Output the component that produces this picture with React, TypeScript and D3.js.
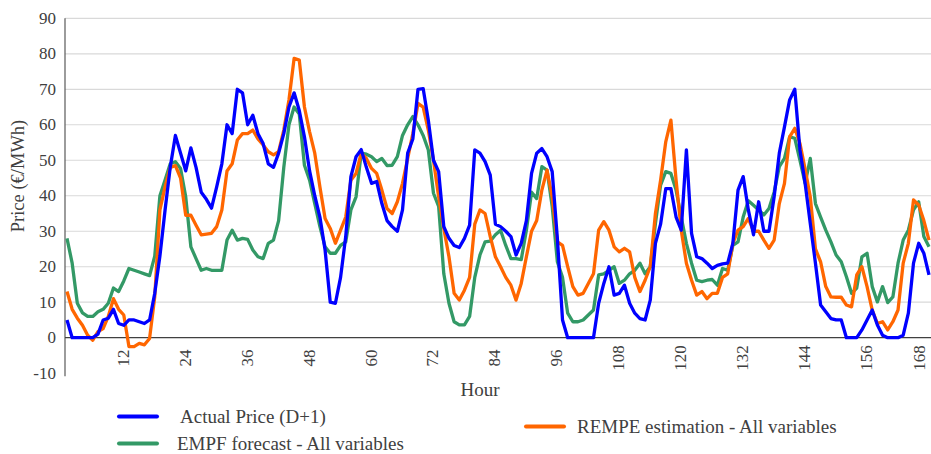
import React from "react";
import * as d3 from "d3";

// hourly prices, hours 1..168
const actualPrice = [
  5, 0, 0, 0, 0, 0, 1, 5, 5.5, 8, 4, 3.5, 5, 5, 4.5, 4, 5, 12.5, 23, 36, 48, 57, 52, 47,
  53.5, 48, 41, 39, 36.5, 42.5, 49, 60, 57.5, 70, 69, 60, 62.7, 57.5, 54.7, 49, 48, 52, 57.5, 65, 69, 64, 56.6, 47,
  40, 34, 24.7, 10, 9.7, 17, 28.5, 45.4, 51, 53, 48, 43.5, 44, 37.8, 33, 31.3, 30, 36, 52, 56, 70, 70.2, 61.3, 50,
  46.8, 31.3, 28, 26, 25.4, 28, 31.7, 52.9, 52, 49.6, 45.8, 32, 31.3, 30, 28.5, 23.3, 26.6, 33, 46.3, 52, 53.3, 51, 46.8, 28,
  5, 0, 0, 0, 0, 0, 0, 9.7, 15.3, 20, 12, 12.5, 14.8, 9.7, 6.9, 5.4, 5, 10.6, 26.6, 32, 42, 42, 34, 30.3,
  52.9, 29.4, 22.8, 22.3, 21, 19.5, 20.4, 20.8, 21, 26.6, 41.6, 45.4, 36, 29, 38.3, 30, 30, 39.7, 52, 59.4, 67, 70, 52.9, 43.5,
  32.2, 21, 9.2, 7.3, 5.4, 5, 5, 0, 0, 0, 2.2, 5, 7.8, 3.6, 0.7, 0, 0, 0, 0.7, 6.9, 21, 26.6, 23.8, 17.7,
];

const rempeEstimation = [
  13, 8, 5.5, 3.5, 0.7, -0.7, 1.7, 2.6, 6, 11, 8, 6.4, -2.5, -2.5, -1.6, -2, -0.2, 11.5, 36, 42.5, 48, 48.5, 45, 34.5,
  34.5, 31.7, 29, 29.2, 29.4, 31.3, 36, 47, 49, 55.7, 57.5, 57.5, 58.5, 56, 54.3, 52.4, 51.5, 52.4, 58.5, 67, 78.7, 78.2, 65, 58,
  52, 42.5, 33.6, 30.8, 26.6, 30.3, 34, 44.4, 46.3, 52, 50.5, 47.7, 46.3, 41.6, 36.4, 35, 38.3, 43.5, 50.5, 57.5, 66, 65, 58.5, 50,
  39.7, 30.8, 22.8, 12.5, 10.6, 13.4, 17, 32, 36, 35, 28.5, 22.8, 20, 17, 14.8, 10.6, 15.3, 22.8, 30, 33, 41.6, 47.2, 39.7, 27,
  26, 20, 14.4, 12, 12.5, 15.3, 18, 30.3, 32.7, 30.3, 25.6, 24.2, 25.2, 24.2, 17, 13, 16.2, 20, 35, 44.4, 55.2, 61.3, 44.4, 30.3,
  21, 16.2, 12, 13, 11, 12.5, 12.5, 17, 18, 26.6, 30.3, 31.3, 33.6, 30, 30, 27.5, 25.2, 27.5, 37.8, 43.5, 56.6, 59, 54.7, 47.5,
  39.7, 25, 21.4, 14.4, 11.5, 11.4, 11.4, 9.2, 8.7, 17.7, 20, 14.4, 7.8, 4, 4.5, 2.2, 4.5, 7.8, 21, 26.6, 38.8, 37.4, 33, 27.5,
];

const empfForecast = [
  28, 21, 9.7, 7, 6, 6, 7.3, 8, 9.7, 14, 13, 16, 19.5, 19, 18.5, 18, 17.5, 23, 40, 44.4, 49, 49.6, 47.7, 39.7,
  25.6, 22.3, 19, 19.5, 19, 19, 19, 27.5, 30.3, 27.5, 28, 27.7, 24.7, 22.8, 22.3, 26.6, 27.5, 33, 48, 60, 65, 63, 48.6, 44.4,
  37.8, 31.3, 25.6, 23.8, 23.8, 26, 27, 36, 39.7, 52, 51.7, 51, 49.6, 50.5, 48.5, 48.6, 51, 57, 60, 62.3, 60, 57, 52.9, 40.7,
  37, 18, 9.7, 4.5, 3.6, 3.6, 6, 17, 23.3, 27, 27.2, 29, 30.3, 26, 22.3, 22.3, 22, 30.3, 41, 39.2, 48.2, 47.2, 37, 21.4,
  17, 6.9, 4.5, 4.5, 5, 6.4, 7.8, 17.7, 18, 19, 20, 15.3, 16.2, 18, 19, 21, 18, 20, 32.2, 43, 46.8, 46.3, 41.6, 34,
  26.6, 21, 16.2, 15.8, 16.2, 16.4, 14.8, 19.5, 19, 26, 27, 34, 38.6, 37.3, 36, 34.6, 36.4, 41, 48.2, 50.5, 56.6, 56.2, 50, 43.5,
  50.5, 37.8, 34, 30.3, 27, 23.3, 21.4, 17.2, 12.5, 14, 22.8, 23.8, 14.4, 10.1, 14.4, 9.9, 11.5, 21, 27.5, 30.3, 36, 38.3, 28.5, 25.6,
];

const yTicks = [-10, 0, 10, 20, 30, 40, 50, 60, 70, 80, 90];
const xTicks = [12, 24, 36, 48, 60, 72, 84, 96, 108, 120, 132, 144, 156, 168];

const FONT = "'Times New Roman', 'Liberation Serif', Tinos, 'DejaVu Serif', 'Noto Serif', serif";
const TEXT = "#404040";

const App = () => {
  const x = d3.scaleLinear().domain([1, 168]).range([67, 929]);
  const y = d3.scaleLinear().domain([-10, 90]).range([373.2, 18.3]);

  const line = d3
    .line<number>()
    .x((d, i) => x(i + 1))
    .y((d) => y(d));

  const series = [
    { values: empfForecast, color: "#339966" },
    { values: rempeEstimation, color: "#ff6600" },
    { values: actualPrice, color: "#0000ff" },
  ];

  const txt = { fontFamily: FONT, fill: TEXT };

  return (
    <svg width={931} height={454} style={{ position: "absolute", left: 0, top: 0, background: "#fff", fontFamily: FONT }}>
      {/* grid */}
      {yTicks.filter((t) => t > 0).map((t) => (
        <line key={t} x1={65} x2={931} y1={y(t)} y2={y(t)} stroke="#d9d9d9" strokeWidth={1.2} />
      ))}
      {/* y labels */}
      {yTicks.map((t) => (
        <text key={t} x={56} y={y(t) + 5.5} textAnchor="end" fontSize={17} style={txt}>
          {t}
        </text>
      ))}
      {/* axes */}
      <line x1={65} x2={65} y1={y(90)} y2={y(-10) + 3} stroke="#595959" strokeWidth={1.2} />
      <line x1={65} x2={931} y1={y(0)} y2={y(0)} stroke="#404040" strokeWidth={1.2} />
      {xTicks.map((t) => (
        <text
          key={t}
          transform={`translate(${Math.min(x(t) + 5, 925)},${358}) rotate(-90)`}
          textAnchor="middle"
          fontSize={17}
          style={txt}
        >
          {t}
        </text>
      ))}
      <text transform="translate(24,176) rotate(-90)" textAnchor="middle" fontSize={18.5} style={txt}>
        Price (€/MWh)
      </text>
      <text x={480} y={396} textAnchor="middle" fontSize={19} style={txt}>
        Hour
      </text>

      {series.map((s) => (
        <path
          key={s.color}
          d={line(s.values) ?? ""}
          fill="none"
          stroke={s.color}
          strokeWidth={3.3}
          strokeLinejoin="round"
        />
      ))}

      {/* legend */}
      <line x1={119} x2={157} y1={416.5} y2={416.5} stroke="#0000ff" strokeWidth={4} strokeLinecap="round" />
      <text x={180} y={422.5} fontSize={19} style={txt}>Actual Price (D+1)</text>
      <line x1={119} x2={157} y1={443.5} y2={443.5} stroke="#339966" strokeWidth={4} strokeLinecap="round" />
      <text x={177} y={449.5} fontSize={19} style={txt}>EMPF forecast - All variables</text>
      <line x1={526} x2={564} y1={426.5} y2={426.5} stroke="#ff6600" strokeWidth={4} strokeLinecap="round" />
      <text x={577} y={432.5} fontSize={19} style={txt}>REMPE estimation - All variables</text>
    </svg>
  );
};

export default App;
